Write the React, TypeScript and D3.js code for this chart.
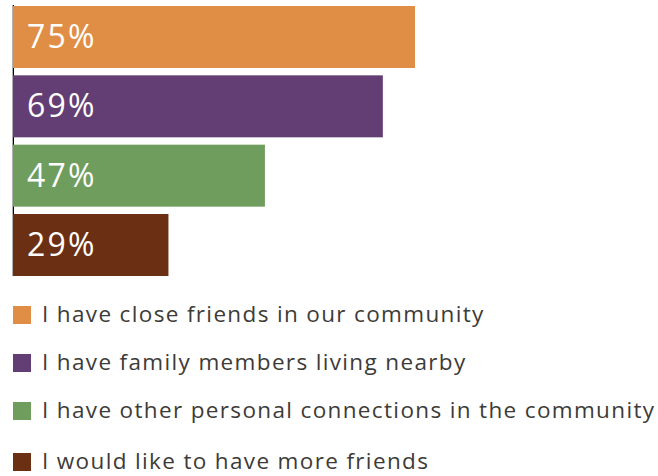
import React from "react";
import * as d3 from "d3";

const categories = [
  "I have close friends in our community",
  "I have family members living nearby",
  "I have other personal connections in the community",
  "I would like to have more friends",
];
const values = [75, 69, 47, 29];
const colors = ["#E08E45", "#633E74", "#6E9D5E", "#6B2F14"];
const legendY = [306, 354, 402, 453];

export default function App() {
  const W = 658, H = 476;
  const x = d3.scaleLinear().domain([0, 100]).range([13, 549]);
  const y = d3.scaleBand<string>().domain(categories).range([6, 276]).paddingInner(0.106).paddingOuter(0);
  const font = "'Open Sans', sans-serif";
  return (
    <svg width={W} height={H} style={{ position: "absolute", left: 0, top: 0 }}>
      <line x1={12.5} x2={12.5} y1={5} y2={276} stroke="#b0b0b0" strokeWidth={1} />
      <line x1={13.5} x2={13.5} y1={5} y2={276} stroke="#000" strokeWidth={1} />
      {categories.map((c, i) => (
        <g key={c}>
          <rect x={x(0)} y={y(c)} width={x(values[i]) - x(0)} height={y.bandwidth()} fill={colors[i]} />
          <text x={27} y={(y(c) as number) + y.bandwidth() / 2 + 11} fill="#fff" fontFamily={font} fontSize={32} letterSpacing={2.2}>
            {values[i]}%
          </text>
        </g>
      ))}
      {categories.map((c, i) => (
        <g key={"l" + c}>
          <rect x={13} y={legendY[i]} width={18} height={18} fill={colors[i]} />
          <text x={42} y={legendY[i] + 16} fill="#3d3b38" fontFamily={font} fontSize={22.5} letterSpacing={1.35}>
            {c}
          </text>
        </g>
      ))}
    </svg>
  );
}
